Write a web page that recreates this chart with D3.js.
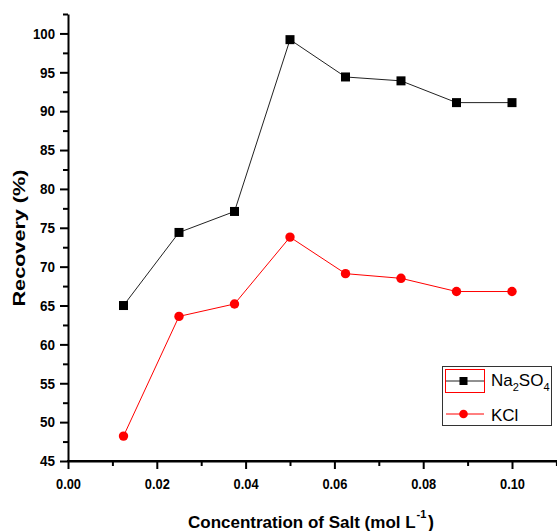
<!DOCTYPE html>
<html>
<head>
<meta charset="utf-8">
<script src="https://cdn.jsdelivr.net/npm/d3@7"></script>
<style>
  body { margin: 0; background: #fff; }
  svg { display: block; font-family: "Liberation Sans", Arial, sans-serif; }
</style>
</head>
<body>
<svg id="chart" width="557" height="531"></svg>
<script>
const concentrations = [0.0125, 0.025, 0.0375, 0.05, 0.0625, 0.075, 0.0875, 0.1];
const na2so4 = [65.0, 74.4, 77.1, 99.2, 94.4, 93.9, 91.1, 91.1];
const kcl = [48.2, 63.6, 65.2, 73.8, 69.1, 68.5, 66.8, 66.8];
const xTicks = [0, 0.02, 0.04, 0.06, 0.08, 0.10];
const xMinorTicks = [0.01, 0.03, 0.05, 0.07, 0.09, 0.11];
const yTicks = [45, 50, 55, 60, 65, 70, 75, 80, 85, 90, 95, 100];
const yMinorTicks = [47.5, 52.5, 57.5, 62.5, 67.5, 72.5, 77.5, 82.5, 87.5, 92.5, 97.5, 102.5];

const svg = d3.select("#chart");
const x = d3.scaleLinear().domain([0, 0.11]).range([68, 556.4]);
const y = d3.scaleLinear().domain([45, 102.5]).range([461, 14]);

// minor ticks
svg.append("g").attr("transform", "translate(0,461)")
  .call(d3.axisBottom(x).tickValues(xMinorTicks).tickSize(5).tickFormat(""))
  .call(g => g.select(".domain").remove())
  .call(g => g.selectAll("line").attr("stroke-width", 2));
svg.append("g").attr("transform", "translate(68,0)")
  .call(d3.axisLeft(y).tickValues(yMinorTicks).tickSize(5).tickFormat(""))
  .call(g => g.select(".domain").remove())
  .call(g => g.selectAll("line").attr("stroke-width", 2));

// major axes
const xAxis = svg.append("g").attr("transform", "translate(0,461)")
  .call(d3.axisBottom(x).tickValues(xTicks).tickSize(8).tickSizeOuter(0).tickPadding(9).tickFormat(d3.format(".2f")));
const yAxis = svg.append("g").attr("transform", "translate(68,0)")
  .call(d3.axisLeft(y).tickValues(yTicks).tickSize(8).tickSizeOuter(0).tickPadding(5).tickFormat(d3.format("d")));
[xAxis, yAxis].forEach(a => {
  a.select(".domain").attr("stroke-width", 2);
  a.selectAll(".tick line").attr("stroke-width", 2);
  a.selectAll("text").attr("font-size", 15).attr("font-weight", "bold").attr("fill", "#000")
    .attr("font-family", "'Liberation Sans', Arial, sans-serif");
});
xAxis.selectAll("text").each(function() { d3.select(this).attr("textLength", 25).attr("lengthAdjust", "spacingAndGlyphs"); });
yAxis.selectAll("text").each(function(d) {
  d3.select(this).attr("textLength", d >= 100 ? 22 : 15).attr("lengthAdjust", "spacingAndGlyphs");
});
svg.append("line").attr("x1", 67).attr("x2", 557).attr("y1", 461).attr("y2", 461).attr("stroke", "#000").attr("stroke-width", 2);

// lines
const line = (vals) => d3.line().x((d, i) => x(concentrations[i])).y(d => y(d))(vals);
svg.append("path").attr("d", line(na2so4)).attr("fill", "none").attr("stroke", "#222").attr("stroke-width", 1);
svg.append("path").attr("d", line(kcl)).attr("fill", "none").attr("stroke", "#ff0000").attr("stroke-width", 1);

svg.selectAll(".sq").data(na2so4).enter().append("rect")
  .attr("x", (d, i) => x(concentrations[i]) - 4.5).attr("y", d => y(d) - 4.5)
  .attr("width", 9).attr("height", 9).attr("fill", "#000");
svg.selectAll(".ci").data(kcl).enter().append("circle")
  .attr("cx", (d, i) => x(concentrations[i])).attr("cy", d => y(d))
  .attr("r", 4.7).attr("fill", "#ff0000");

// axis titles
svg.append("text").attr("transform", "translate(25,238) rotate(-90)")
  .attr("text-anchor", "middle").attr("font-size", 17).attr("font-weight", "bold")
  .attr("textLength", 137).attr("lengthAdjust", "spacingAndGlyphs")
  .text("Recovery (%)");

svg.append("text").attr("x", 188).attr("y", 528)
  .attr("font-size", 17).attr("font-weight", "bold")
  .text("Concentration of Salt (mol L");
svg.append("text").attr("x", 416.5).attr("y", 518)
  .attr("font-size", 11).attr("font-weight", "bold")
  .text("-1");
svg.append("text").attr("x", 428).attr("y", 528)
  .attr("font-size", 18).attr("font-weight", "bold")
  .text(")");

// legend
const lg = svg.append("g");
lg.append("rect").attr("x", 442.5).attr("y", 366.5).attr("width", 109).attr("height", 59)
  .attr("fill", "#fff").attr("stroke", "#333").attr("stroke-width", 1);
lg.append("rect").attr("x", 445.5).attr("y", 369.5).attr("width", 39).attr("height", 23)
  .attr("fill", "none").attr("stroke", "#ff0000").attr("stroke-width", 1);
lg.append("line").attr("x1", 446).attr("x2", 484).attr("y1", 381).attr("y2", 381).attr("stroke", "#222").attr("stroke-width", 1);
lg.append("rect").attr("x", 459.5).attr("y", 377).attr("width", 8).attr("height", 8).attr("fill", "#000");
lg.append("line").attr("x1", 446).attr("x2", 484).attr("y1", 414).attr("y2", 414).attr("stroke", "#ff0000").attr("stroke-width", 1);
lg.append("circle").attr("cx", 463.5).attr("cy", 414).attr("r", 4.3).attr("fill", "#ff0000");

const t1 = lg.append("text").attr("x", 491).attr("y", 386).attr("font-size", 17);
t1.append("tspan").text("Na");
t1.append("tspan").text("2").attr("font-size", 11).attr("dy", 5);
t1.append("tspan").text("SO").attr("dy", -5);
t1.append("tspan").text("4").attr("font-size", 11).attr("dy", 5);
lg.append("text").attr("x", 491).attr("y", 421).attr("font-size", 17).text("KCl");
</script>
</body>
</html>
